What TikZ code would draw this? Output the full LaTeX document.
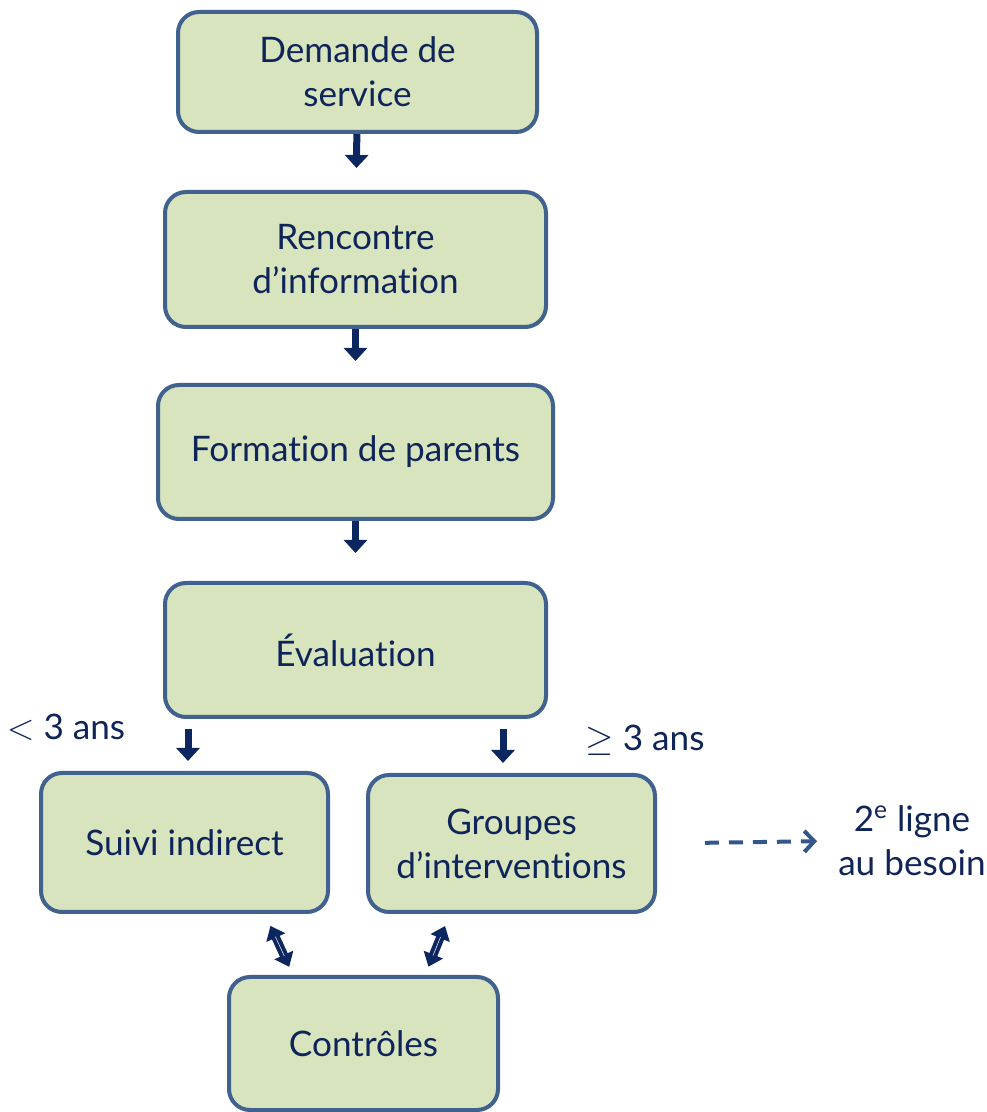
\documentclass[tikz,border=0pt]{standalone}
\usepackage{fontspec}
\setmainfont[Ligatures=NoCommon]{Lato}
\usetikzlibrary{arrows.meta}
\definecolor{boxfill}{HTML}{D7E4BD}
\definecolor{boxline}{HTML}{41628F}
\definecolor{navy}{HTML}{0F2559}
\definecolor{arrowblue}{HTML}{0C2660}
\definecolor{dashblue}{HTML}{33568C}
\tikzset{
	stage/.style={draw=boxline, fill=boxfill, line width=0.08cm, rounded corners=0.42cm,
		align=center, text=navy, font=\fontsize{20}{25}\selectfont},
	tag/.style={text=navy, align=center, font=\fontsize{20}{25}\selectfont},
	flow/.style={draw=arrowblue, line width=0.14cm, -{Triangle[width=0.46cm,length=0.26cm]}},
	link/.style={draw=arrowblue, line width=0.17cm, {Triangle[width=0.4cm,length=0.26cm]}-{Triangle[width=0.4cm,length=0.26cm]}},
	linkcore/.style={draw=white!75!gray, line width=0.35pt},
	later/.style={draw=dashblue, line width=0.08cm, dash pattern=on 0.28cm off 0.2cm,
		-{Straight Barb[width=0.42cm,length=0.2cm,line width=0.08cm]}}
}
\begin{document}
\begin{tikzpicture}
	\def \sh{0.2cm}
	\useasboundingbox (0, 0) rectangle (19.74, 22.24);
	\node[stage, minimum width=7.18cm, minimum height=2.40cm] (demande) at (7.15, 20.80) {Demande de\\service};
	\node[stage, minimum width=7.62cm, minimum height=2.70cm] (rencontre) at (7.11, 17.05) {Rencontre\\d’information};
	\node[stage, minimum width=7.90cm, minimum height=2.68cm] (formation) at (7.11, 13.20) {Formation de parents};
	\node[stage, minimum width=7.62cm, minimum height=2.68cm] (eval) at (7.11, 9.24) {Évaluation};
	\node[stage, minimum width=5.74cm, minimum height=2.78cm] (suivi) at (3.69, 5.39) {Suivi indirect};
	\node[stage, minimum width=5.74cm, minimum height=2.74cm] (groupes) at (10.23, 5.37) {Groupes\\d’interventions};
	\node[stage, minimum width=5.38cm, minimum height=2.66cm] (ctrl) at (7.27, 1.37) {Contrôles};
	\node[tag] (moins) at (1.32, 7.70) {$<$ 3 ans};
	\node[tag] (plus) at (12.90, 7.44) {$\geq$ 3 ans};
	\node[tag] (ligne) at (18.24, 5.42) {2\textsuperscript{e} ligne\\au besoin};
	% main sequence
	\draw[flow, shorten >=0.44cm] (demande) -- (rencontre);
	\draw[flow, shorten >=0.44cm] (rencontre) -- (formation);
	\draw[flow, shorten >=0.56cm] (formation) -- (eval);
	\draw[flow, shorten <=\sh, shorten >=\sh] ([xshift=0.07cm]eval.south -| suivi.north) -- ([xshift=0.07cm]suivi.north);
	\draw[flow, shorten <=\sh, shorten >=\sh] ([xshift=-0.17cm]eval.south -| groupes.north) -- ([xshift=-0.17cm]groupes.north);
	% to and from the controls
	\draw[link, shorten <=0.26cm, shorten >=0.18cm] ([xshift=1.61cm]suivi.south) -- ([xshift=-1.41cm]ctrl.north);
	\draw[linkcore, shorten <=0.5cm, shorten >=0.42cm] ([xshift=1.61cm]suivi.south) -- ([xshift=-1.41cm]ctrl.north);
	\draw[link, shorten <=0.26cm, shorten >=0.18cm] ([xshift=-1.23cm]groupes.south) -- ([xshift=1.23cm]ctrl.north);
	\draw[linkcore, shorten <=0.5cm, shorten >=0.42cm] ([xshift=-1.23cm]groupes.south) -- ([xshift=1.23cm]ctrl.north);
	% second line
	\draw[later, shorten <=0.96cm, shorten >=0.3cm] (groupes.east) -- (ligne.west);
\end{tikzpicture}
\end{document}
